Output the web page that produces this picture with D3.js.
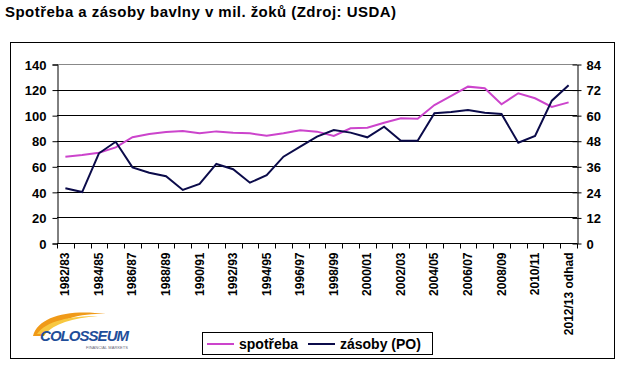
<!DOCTYPE html>
<html>
<head>
<meta charset="utf-8">
<script src="https://cdn.jsdelivr.net/npm/d3@7"></script>
<style>
  body { margin: 0; background: #fff; }
  svg { display: block; font-family: Arial, "Liberation Sans", sans-serif; }
</style>
</head>
<body>
<svg id="chart" width="621" height="365"></svg>
<script>
// data
const seasons = ["1982/83","1983/84","1984/85","1985/86","1986/87","1987/88","1988/89","1989/90",
  "1990/91","1991/92","1992/93","1993/94","1994/95","1995/96","1996/97","1997/98","1998/99","1999/00",
  "2000/01","2001/02","2002/03","2003/04","2004/05","2005/06","2006/07","2007/08","2008/09","2009/10",
  "2010/11","2011/12","2012/13 odhad"]
const spotreba = [67.5,68.8,70.6,74.8,82.7,85.2,86.8,87.6,85.8,87.3,86.3,85.8,83.9,85.8,88.1,87.1,
  83.8,89.7,90.2,94.1,97.5,97.2,107.9,115,122.3,121,108.5,117.1,113.2,106.4,110]
const zasoby = [25.7,23.9,42.1,47.5,35.5,33,31.3,24.9,27.7,37.1,34.6,28.3,31.8,40.5,45.2,49.9,
  53,51.8,49.6,54.6,48,48,60.9,61.5,62.4,61.1,60.5,47.1,50.2,66.8,74]
const leftTicks = [0,20,40,60,80,100,120,140]
const rightTicks = [0,12,24,36,48,60,72,84]

const svg = d3.select("#chart")
const m = {left: 57, right: 577, top: 64, bottom: 243}

svg.append("text").attr("x", 5).attr("y", 17)
  .attr("font-size", 15).attr("font-weight", "bold").attr("textLength", 391)
  .text("Spotřeba a zásoby bavlny v mil. žoků (Zdroj: USDA)")

// outer frame
svg.append("rect").attr("x", 10.5).attr("y", 42.5).attr("width", 604).attr("height", 316)
  .attr("fill", "none").attr("stroke", "#000")

const x = d3.scaleBand().domain(seasons).range([m.left, m.right])
const yL = d3.scaleLinear().domain([0, 140]).range([m.bottom, m.top])
const yR = d3.scaleLinear().domain([0, 84]).range([m.bottom, m.top])

// gridlines
svg.append("g").selectAll("line").data(leftTicks.slice(1)).join("line")
  .attr("x1", m.left).attr("x2", m.right)
  .attr("y1", d => Math.round(yL(d)) + 0.5).attr("y2", d => Math.round(yL(d)) + 0.5)
  .attr("stroke", d => d == 140 ? "#888" : "#000")

// left axis
const gl = svg.append("g").attr("transform", `translate(${m.left + 0.5},0.5)`)
  .call(d3.axisLeft(yL).tickValues(leftTicks).tickSize(5).tickPadding(6))
gl.selectAll("text").attr("font-size", 13).attr("font-weight", "bold").attr("fill", "#000").attr("dy", "0.36em")
gl.select(".domain").attr("stroke", "#000")

// right axis (ticks cross the line)
const gr = svg.append("g").attr("transform", `translate(${m.right + 0.5},0.5)`)
  .call(d3.axisRight(yR).tickValues(rightTicks).tickSizeInner(4).tickSizeOuter(0).tickPadding(5))
gr.selectAll(".tick line").attr("x1", -5)
gr.selectAll("text").attr("font-size", 13).attr("font-weight", "bold").attr("fill", "#000").attr("dy", "0.36em")

// bottom axis: ticks on category boundaries
const ga = svg.append("g").attr("transform", `translate(0,${m.bottom + 0.5})`)
ga.append("line").attr("x1", m.left).attr("x2", m.right).attr("stroke", "#000")
const bounds = seasons.map(s => x(s)).concat([m.right])
ga.selectAll(".tk").data(bounds).join("line").attr("class", "tk")
  .attr("x1", d => Math.round(d) + 0.5).attr("x2", d => Math.round(d) + 0.5)
  .attr("y1", 0).attr("y2", 5).attr("stroke", "#000")
ga.selectAll(".lb").data(seasons.filter((s, i) => i % 2 == 0)).join("text").attr("class", "lb")
  .attr("transform", d => `translate(${x(d) + x.bandwidth() / 2 + 4},9) rotate(-90)`)
  .attr("text-anchor", "end").attr("font-size", 12).attr("font-weight", "bold").text(d => d)

// lines
const cx = d => x(d) + x.bandwidth() / 2
svg.append("path").datum(spotreba)
  .attr("d", d3.line().x((d, i) => cx(seasons[i])).y(d => yL(d)))
  .attr("fill", "none").attr("stroke", "#cc44cc").attr("stroke-width", 2)
svg.append("path").datum(zasoby)
  .attr("d", d3.line().x((d, i) => cx(seasons[i])).y(d => yR(d)))
  .attr("fill", "none").attr("stroke", "#0b0b4a").attr("stroke-width", 2)

// legend
const lg = svg.append("g")
lg.append("rect").attr("x", 202.5).attr("y", 332.5).attr("width", 230).attr("height", 22)
  .attr("fill", "#fff").attr("stroke", "#000")
const items = [{name: "spotřeba", color: "#cc44cc", x: 207}, {name: "zásoby (PO)", color: "#0b0b4a", x: 308}]
items.forEach(it => {
  lg.append("line").attr("x1", it.x).attr("x2", it.x + 27).attr("y1", 344).attr("y2", 344)
    .attr("stroke", it.color).attr("stroke-width", 2)
  lg.append("text").attr("x", it.x + 32).attr("y", 349).attr("font-size", 14)
    .attr("font-weight", "bold").text(it.name)
})

// logo
const logo = svg.append("g")
logo.append("path").attr("d", "M33,336 C38,316 70,309 106,314 C78,313 54,320 44,336 Z").attr("fill", "#f09a18")
logo.append("path").attr("d", "M37,334 C46,321 70,316 98,316 C72,318 54,324 45,334 Z").attr("fill", "#f8c840")
logo.append("text").attr("x", 40).attr("y", 341).attr("font-size", 15).attr("font-weight", "bold")
  .attr("font-style", "italic").attr("fill", "#1f4e9a").attr("textLength", 89).text("COLOSSEUM")
logo.append("text").attr("x", 86).attr("y", 349).attr("font-size", 4).attr("fill", "#667")
  .attr("textLength", 42).text("FINANCIAL MARKETS")
</script>
</body>
</html>
